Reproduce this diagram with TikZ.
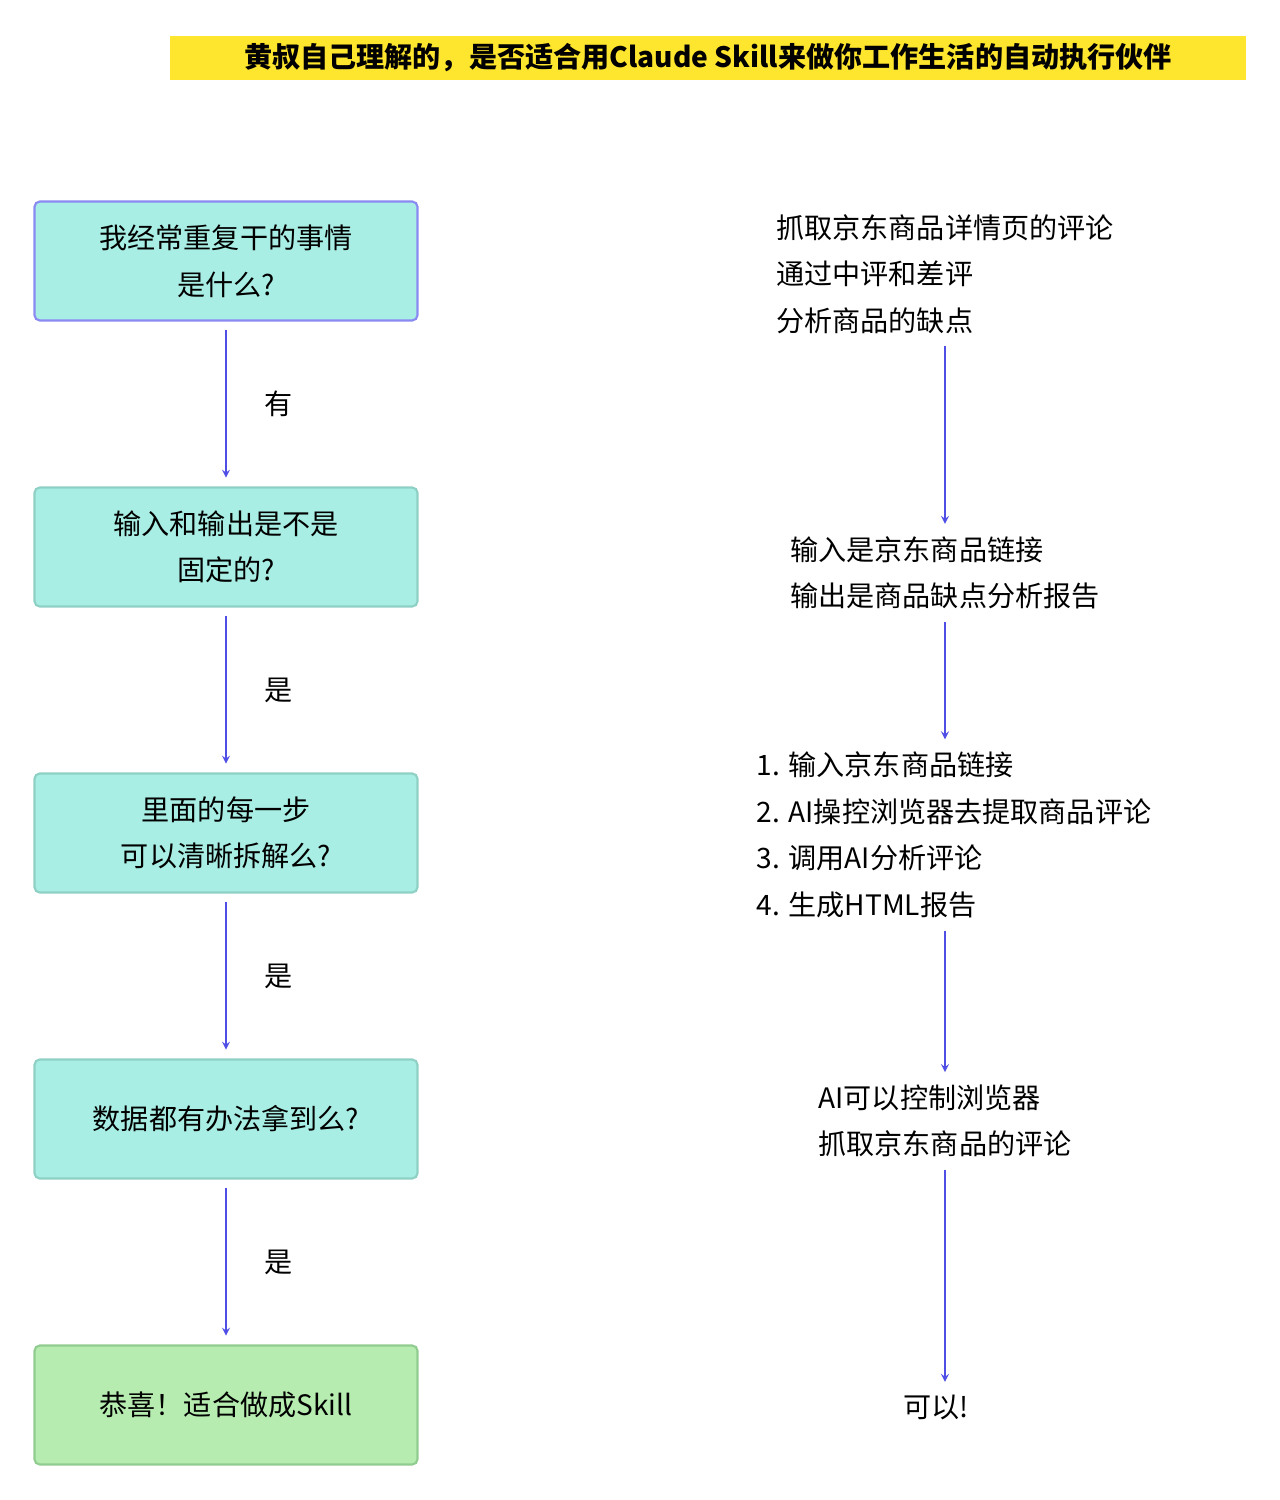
\documentclass[tikz,border=0pt]{standalone}
\usepackage{fontspec}
\setmainfont{Noto Sans CJK SC}
\usepackage{amsmath}
\definecolor{boxfill}{HTML}{A8EEE4}
\definecolor{boxline}{HTML}{8FD0C4}
\definecolor{firstline}{HTML}{8A8AF2}
\definecolor{okfill}{HTML}{B6ECB0}
\definecolor{okline}{HTML}{90CC90}
\definecolor{flow}{HTML}{4F4FE6}
\definecolor{titlebg}{HTML}{FFE62E}
\begin{document}
\begin{tikzpicture}[x=0.02cm, y=-0.02cm, font=\fontsize{16}{26.5}\selectfont, askbox/.style={rectangle, rounded corners=3pt, draw=boxline, fill=boxfill, line width=1.2pt, minimum width=383*0.02cm, minimum height=119*0.02cm, align=center}, note/.style={align=left, inner sep=7pt}, flowarrow/.style={->, draw=flow, line width=1pt, >=stealth}]

  \useasboundingbox (0,0) rectangle (1280,1500);
  \fill[titlebg] (170,36) rectangle (1246,80);
  \node[font=\fontsize{16}{20}\selectfont\bfseries, anchor=center] (title) at (708,58) {黄叔自己理解的，是否适合用Claude Skill来做你工作生活的自动执行伙伴};

  % left chain
  \node[askbox, draw=firstline] (q1) at (226,261) {我经常重复干的事情\\是什么?};
  \node[askbox] (q2) at (226,547) {输入和输出是不是\\固定的?};
  \node[askbox] (q3) at (226,833) {里面的每一步\\可以清晰拆解么?};
  \node[askbox] (q4) at (226,1119) {数据都有办法拿到么?};
  \node[askbox, draw=okline, fill=okfill] (q5) at (226,1405) {恭喜！适合做成Skill};

  \draw[flowarrow, shorten <=5pt, shorten >=5pt] (q1) -- node[right=18pt] {有} (q2);
  \draw[flowarrow, shorten <=5pt, shorten >=5pt] (q2) -- node[right=18pt] {是} (q3);
  \draw[flowarrow, shorten <=5pt, shorten >=5pt] (q3) -- node[right=18pt] {是} (q4);
  \draw[flowarrow, shorten <=5pt, shorten >=5pt] (q4) -- node[right=18pt] {是} (q5);

  % right chain
  \node[note] (r1) at (945,274) {抓取京东商品详情页的评论\\通过中评和差评\\分析商品的缺点};
  \node[note] (r2) at (945,573) {输入是京东商品链接\\输出是商品缺点分析报告};
  \node[note] (r3) at (954,835) {1. 输入京东商品链接\\2. AI操控浏览器去提取商品评论\\3. 调用AI分析评论\\4. 生成HTML报告};
  \node[note] (r4) at (945,1121) {AI可以控制浏览器\\抓取京东商品的评论};
  \node[note] (r5) at (936,1407) {可以!};

  \draw[flowarrow] (r1) -- (r1 |- r2.north);
  \draw[flowarrow] (r2) -- (r2 |- r3.north);
  \draw[flowarrow] (r2 |- r3.south) -- (r4);
  \draw[flowarrow] (r4) -- (r4 |- r5.north);
\end{tikzpicture}
\end{document}
